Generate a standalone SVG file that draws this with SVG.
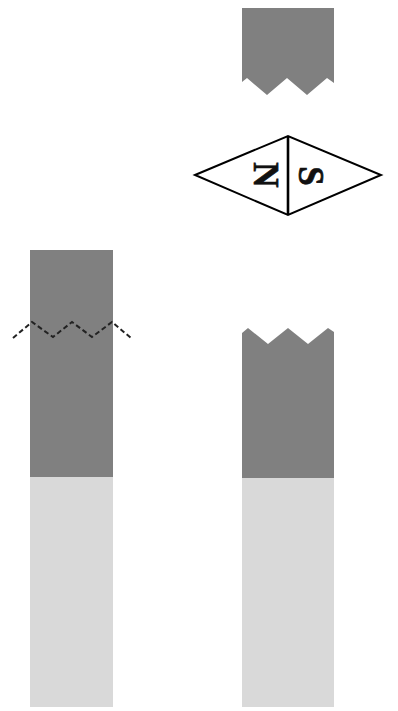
<svg xmlns="http://www.w3.org/2000/svg" width="398" height="711" viewBox="0 0 398 711">
<style>
.d{fill:#808080}
.l{fill:#d9d9d9}
.o{fill:none;stroke:#000;stroke-width:2}
.t{font-family:"Liberation Serif",serif;font-weight:bold;font-size:35px;text-anchor:middle;fill:#111;stroke:#111;stroke-width:.7}
</style>
<rect width="398" height="711" fill="#fff"/>
<g id="left-magnet">
<rect class="l" x="30" y="477" width="83" height="230"/>
<rect class="d" x="30" y="250" width="83" height="227"/>
</g>
<g id="broken-top">
<path class="d" d="M242 8H334V83L327 78L307 95L287 78L267 95L247 78L242 82Z"/>
</g>
<g id="broken-bottom">
<rect class="l" x="242" y="478" width="92" height="229"/>
<path class="d" d="M242 333L248 328L268 344L288 328L308 344L328 328L334 332V478H242Z"/>
</g>
<g id="compass">
<path class="o" d="M195 175L288 136L381 175L288 215Z"/>
<path class="o" style="stroke-width:2.6" d="M288 136V215"/>
<text class="t" transform="translate(266 175) rotate(90)" y="12">N</text>
<text class="t" transform="translate(311 176) rotate(90)" y="12">S</text>
</g>
<g id="connectors">
<path d="M13 338L32 322L53 337L72 322L92 337L112 322L131 338" fill="none" stroke="#222" stroke-width="2" stroke-dasharray="5 3"/>
</g>
</svg>
